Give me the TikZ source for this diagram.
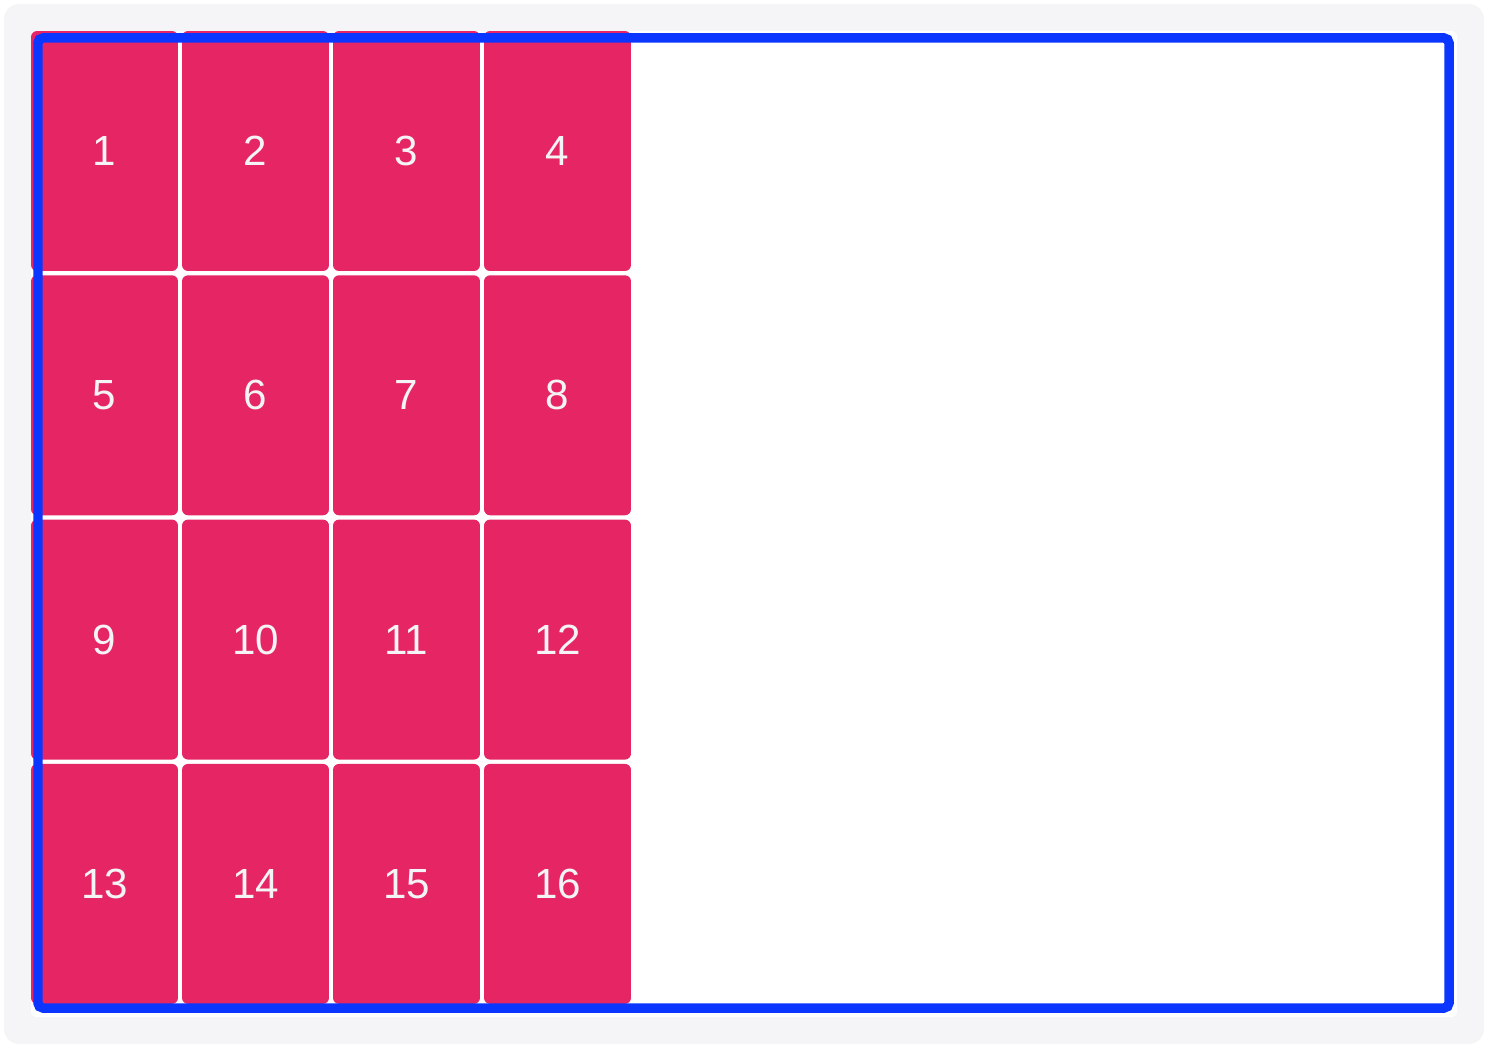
\documentclass[tikz,border=0pt]{standalone}
\usepackage{fontspec}
\setmainfont{Liberation Sans}
\usepackage{tikz}

\definecolor{cellpink}{HTML}{E62664}
\definecolor{framegrey}{HTML}{F5F5F8}
\definecolor{borderblue}{HTML}{0A36FF}
\definecolor{numwhite}{HTML}{F4F4F6}

\begin{document}
\begin{tikzpicture}[x=0.02cm, y=-0.02cm]
\tikzstyle{cell}=[fill=cellpink, rounded corners=0.12cm, inner sep=0pt,
  minimum width=2.94cm, minimum height=4.8cm, text=numwhite,
  font=\fontsize{24}{28}\selectfont];
\useasboundingbox (0,0) rectangle (1492,1050);
\fill[framegrey, rounded corners=0.3cm] (4,4) rectangle (1484,1044);
\fill[white, rounded corners=0.1cm] (31,31) rectangle (1457,1017);
\foreach \i in {1,...,16}
{
\pgfmathtruncatemacro{\c}{mod(\i-1,4)}
\pgfmathtruncatemacro{\r}{div(\i-1,4)}
\path (104.5+151*\c, 151+244.3*\r) node[cell] (c\i) {\i};
}
\draw[borderblue, line width=0.19cm, rounded corners=0.1cm]
(38,38) rectangle (1449,1008);
\end{tikzpicture}
\end{document}
